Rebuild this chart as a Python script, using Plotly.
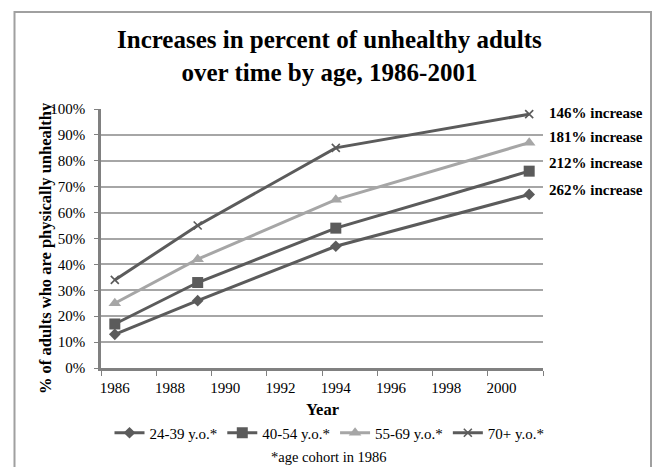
import plotly.graph_objects as go

# Survey years and share (%) of adults who are physically unhealthy, per 1986 age cohort
years = [1986, 1989, 1994, 2001]
cohort_names = ["24-39 y.o.*", "40-54 y.o.*", "55-69 y.o.*", "70+ y.o.*"]
pct_24_39 = [13, 26, 47, 67]
pct_40_54 = [17, 33, 54, 76]
pct_55_69 = [25, 42, 65, 87]
pct_70_plus = [34, 55, 85, 98]
increase_labels = ["146% increase", "181% increase", "212% increase", "262% increase"]

W, H = 652, 467
L, R, T, B = 101, 109, 109, 99
PW, PH = W - L - R, H - T - B


def px_x(x):
    return (x - L) / PW


def px_y(y):
    return (H - B - y) / PH


SERIF = "Liberation Serif, Times New Roman, serif"
DARK = "#5b5b5b"
LIGHT = "#a6a6a6"

series = [
    (pct_24_39, DARK, dict(symbol="diamond", size=9)),
    (pct_40_54, DARK, dict(symbol="square", size=11)),
    (pct_55_69, LIGHT, dict(symbol="triangle-up", size=11)),
    (pct_70_plus, DARK, dict(symbol="x-thin", size=8, line=dict(width=1.6, color=DARK))),
]

fig = go.Figure()
for name, (vals, color, marker) in zip(cohort_names, series):
    fig.add_trace(go.Scatter(
        x=years, y=vals, name=name, mode="lines+markers",
        line=dict(color=color, width=3),
        marker=dict(color=color, **marker),
    ))

annotations = [
    dict(text="Increases in percent of unhealthy adults<br>over time by age, 1986-2001",
         x=px_x(329), y=px_y(56), xref="paper", yref="paper",
         xanchor="center", yanchor="middle", showarrow=False,
         font=dict(family=SERIF, size=25, color="black", weight="bold")),
    dict(text="% of adults who are physically unhealthy",
         x=px_x(45), y=px_y(248), xref="paper", yref="paper",
         xanchor="center", yanchor="middle", textangle=-90, showarrow=False,
         font=dict(family=SERIF, size=16.5, color="black", weight="bold")),
    dict(text="Year", x=px_x(322), y=px_y(409), xref="paper", yref="paper",
         xanchor="center", yanchor="middle", showarrow=False,
         font=dict(family=SERIF, size=16.5, color="black", weight="bold")),
    dict(text="*age cohort in 1986", x=px_x(329), y=px_y(457), xref="paper", yref="paper",
         xanchor="center", yanchor="middle", showarrow=False,
         font=dict(family=SERIF, size=14.5, color="black")),
]
for label, ypx in zip(increase_labels, [112.7, 136.7, 162.7, 190]):
    annotations.append(dict(
        text=label, x=px_x(547), y=px_y(ypx), xref="paper", yref="paper",
        xanchor="left", yanchor="middle", showarrow=False,
        font=dict(family=SERIF, size=15, color="black", weight="bold")))

fig.update_layout(
    width=W, height=H,
    margin=dict(l=L, r=R, t=T, b=B),
    paper_bgcolor="white", plot_bgcolor="white",
    font=dict(family=SERIF, size=15, color="black"),
    showlegend=True,
    legend=dict(orientation="h", x=px_x(329.5), y=px_y(433),
                xanchor="center", yanchor="middle",
                font=dict(family=SERIF, size=15, color="black"),
                bgcolor="rgba(0,0,0,0)"),
    annotations=annotations,
    shapes=[dict(type="rect", xref="paper", yref="paper",
                 x0=px_x(14.5), x1=px_x(651), y0=px_y(12), y1=px_y(480),
                 line=dict(color="#a0a0a0", width=2), layer="below")],
)

fig.update_xaxes(
    range=[1985.5, 2001.5], tickmode="linear", tick0=1986, dtick=2,
    ticks="", showgrid=False, zeroline=False,
    showline=True, linecolor="#808080", linewidth=2.5,
    tickfont=dict(family=SERIF, size=15, color="black"),
    ticklabelstandoff=4,
    minor=dict(tickmode="linear", tick0=1985.5, dtick=2, ticks="outside",
               ticklen=5, tickcolor="#808080", tickwidth=1, showgrid=False),
)
fig.update_yaxes(
    range=[0, 100], tickmode="linear", tick0=0, dtick=10, ticksuffix="%",
    ticks="outside", ticklen=4, tickcolor="#808080", tickwidth=1,
    showgrid=True, gridcolor="#a6a6a6", gridwidth=1.5, zeroline=False,
    showline=True, linecolor="#808080", linewidth=2.5,
    tickfont=dict(family=SERIF, size=15, color="black"),
    ticklabelstandoff=6,
)

fig.write_html("out.html")
